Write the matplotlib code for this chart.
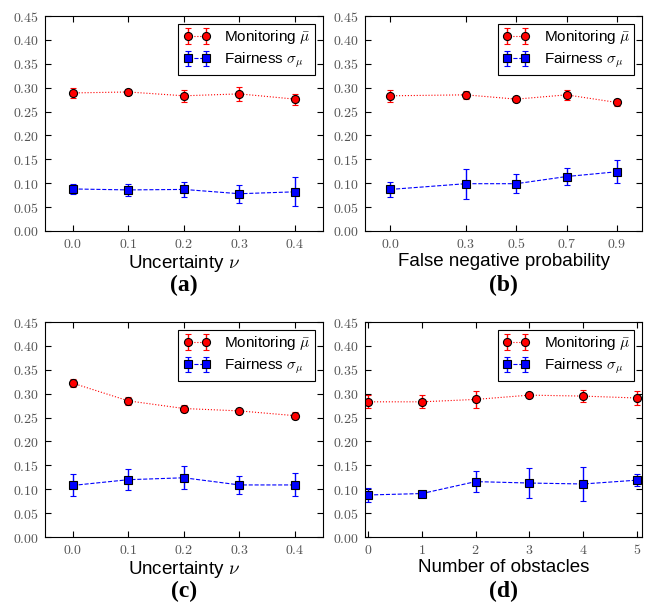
import numpy as np
import matplotlib
matplotlib.use("Agg")
import matplotlib.pyplot as plt
from matplotlib.ticker import FuncFormatter

plt.rcParams['mathtext.fontset'] = 'cm'
plt.rcParams['font.family'] = ['Liberation Sans', 'DejaVu Sans']

# panel (a): uncertainty
x_a = [0.0, 0.1, 0.2, 0.3, 0.4]
mon_a = [0.289, 0.291, 0.283, 0.287, 0.276]
mon_a_err = [0.0105, 0.0066, 0.013, 0.015, 0.0115]
fair_a = [0.088, 0.086, 0.087, 0.078, 0.082]
fair_a_err = [0.010, 0.012, 0.015, 0.019, 0.030]

# panel (b): false negative probability
x_b = [0.0, 0.3, 0.5, 0.7, 0.9]
mon_b = [0.283, 0.285, 0.276, 0.285, 0.269]
mon_b_err = [0.013, 0.008, 0.0045, 0.010, 0.007]
fair_b = [0.087, 0.099, 0.099, 0.114, 0.124]
fair_b_err = [0.015, 0.031, 0.020, 0.0175, 0.024]

# panel (c): uncertainty
x_c = [0.0, 0.1, 0.2, 0.3, 0.4]
mon_c = [0.322, 0.285, 0.269, 0.264, 0.254]
mon_c_err = [0.008, 0.009, 0.008, 0.005, 0.008]
fair_c = [0.108, 0.120, 0.124, 0.109, 0.109]
fair_c_err = [0.023, 0.022, 0.024, 0.019, 0.024]

# panel (d): obstacles
x_d = [0, 1, 2, 3, 4, 5]
mon_d = [0.283, 0.283, 0.288, 0.297, 0.295, 0.291]
mon_d_err = [0.0135, 0.0135, 0.017, 0.004, 0.013, 0.015]
fair_d = [0.088, 0.091, 0.116, 0.113, 0.111, 0.119]
fair_d_err = [0.015, 0.0045, 0.022, 0.031, 0.035, 0.013]

yticks = [0.0, 0.05, 0.10, 0.15, 0.20, 0.25, 0.30, 0.35, 0.40, 0.45]

panels = [
    (x_a, mon_a, mon_a_err, fair_a, fair_a_err, x_a, '%.1f', (-0.05, 0.45),
     r'Uncertainty $\nu$', '(a)'),
    (x_b, mon_b, mon_b_err, fair_b, fair_b_err, x_b, '%.1f', (-0.1, 1.0),
     'False negative probability', '(b)'),
    (x_c, mon_c, mon_c_err, fair_c, fair_c_err, x_c, '%.1f', (-0.05, 0.45),
     r'Uncertainty $\nu$', '(c)'),
    (x_d, mon_d, mon_d_err, fair_d, fair_d_err, x_d, '%d', (-0.06, 5.1),
     'Number of obstacles', '(d)'),
]

pos = [
    [0.0697, 0.6207, 0.430, 0.353],
    [0.565, 0.6207, 0.429, 0.353],
    [0.0697, 0.1182, 0.430, 0.353],
    [0.565, 0.1182, 0.429, 0.353],
]

fig = plt.figure(figsize=(6.46, 6.09), dpi=100)

for p, r in zip(panels, pos):
    xs, m, me, f, fe, xt, fmt, xl, xlabel, tag = p
    ax = fig.add_axes(r)
    ax.errorbar(xs, m, yerr=me, color='red', ls=':', lw=0.8,
                marker='o', ms=5.8, mfc='red', mec='black', mew=0.8,
                ecolor='red', elinewidth=1.0, capsize=2.5, capthick=1.0,
                label=r'Monitoring $\bar{\mu}$')
    ax.errorbar(xs, f, yerr=fe, color='blue', ls='--', lw=0.8,
                marker='s', ms=5.8, mfc='blue', mec='black', mew=0.8,
                ecolor='blue', elinewidth=1.0, capsize=2.5, capthick=1.0,
                label=r'Fairness $\sigma_\mu$')
    ax.set_xlim(*xl)
    ax.set_ylim(0, 0.45)
    ax.set_xticks(xt)
    ax.set_yticks(yticks)
    ax.xaxis.set_major_formatter(FuncFormatter(lambda v, _, fmt=fmt: '$' + (fmt % v) + '$'))
    ax.yaxis.set_major_formatter(FuncFormatter(lambda v, _: '$%.2f$' % v))
    ax.tick_params(direction='in', top=True, right=True, length=4, width=0.8,
                   labelsize=10, labelcolor='#555555', pad=4)
    for s in ax.spines.values():
        s.set_linewidth(0.8)
    ax.set_xlabel(xlabel, fontsize=13.5, labelpad=2)
    leg = ax.legend(loc='upper right', numpoints=2, fontsize=11,
                    fancybox=False, framealpha=1, edgecolor='black',
                    borderpad=0.3, labelspacing=0.3, handlelength=1.8,
                    handletextpad=0.9, borderaxespad=0.5)
    leg.get_frame().set_linewidth(0.8)
    cx = r[0] + r[2] / 2
    fig.text(cx, r[1] - 0.09, tag, ha='center', va='center',
             fontsize=17, fontweight='bold', family='Liberation Serif')

fig.savefig('out.png', dpi=100)
